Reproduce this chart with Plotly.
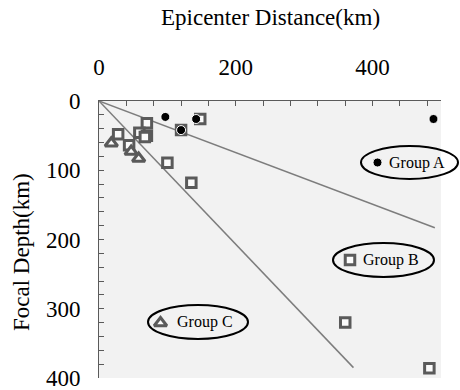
import plotly.graph_objects as go

# ---- data (km) ----
group_a_dist = [97, 142, 120, 489]
group_a_depth = [23, 26, 42, 26]

group_b_dist = [70, 28, 59, 70, 67, 44, 100, 135, 120, 148, 360, 483]
group_b_depth = [32, 48, 46, 50, 52, 64, 89, 118, 42, 26, 320, 386]

group_c_dist = [18, 47, 58]
group_c_depth = [61, 73, 83]

# boundary lines between the groups
boundary_ab_dist = [0, 491]
boundary_ab_depth = [0, 183]
boundary_bc_dist = [0, 372]
boundary_bc_depth = [0, 385]

x_ticks = [0, 200, 400]
y_ticks = [0, 100, 200, 300, 400]

# ---- layout geometry (pixels) ----
W, H = 460, 390
ML, MR, MT, MB = 99, 19, 101, 12
PW, PH = W - ML - MR, H - MT - MB
X_MAX, Y_MAX = 500, 400


def px_to_paper(px, py):
    return (px - ML) / PW, 1 - (py - MT) / PH


def px_to_data(px, py):
    return (px - ML) / PW * X_MAX, (py - MT) / PH * Y_MAX


FONT = "Liberation Serif, Times New Roman, serif"
GREY = "#5a5a5a"

sq_style = dict(symbol="square", size=9.5, color="#fbfbfb",
                line=dict(color=GREY, width=3))
tri_style = dict(symbol="triangle-up", size=11, color="#fbfbfb",
                 line=dict(color=GREY, width=3))
dot_style = dict(symbol="circle", size=9, color="black",
                 line=dict(color="white", width=1))

fig = go.Figure()

for xs, ys in [(boundary_ab_dist, boundary_ab_depth),
               (boundary_bc_dist, boundary_bc_depth)]:
    fig.add_trace(go.Scatter(x=xs, y=ys, mode="lines",
                             line=dict(color="#7d7d7d", width=1.5),
                             showlegend=False, hoverinfo="skip"))

fig.add_trace(go.Scatter(x=group_b_dist, y=group_b_depth, mode="markers",
                         marker=sq_style, name="Group B", showlegend=False,
                         cliponaxis=False))
fig.add_trace(go.Scatter(x=group_c_dist, y=group_c_depth, mode="markers",
                         marker=tri_style, name="Group C", showlegend=False,
                         cliponaxis=False))
fig.add_trace(go.Scatter(x=group_a_dist, y=group_a_depth, mode="markers",
                         marker=dot_style, name="Group A", showlegend=False,
                         cliponaxis=False))

# ---- ellipse keys ----
keys = [
    # label, marker style, ellipse box (x0, x1, y0, y1), marker pos, text left
    ("Group A", dot_style, (361, 458, 146, 179), (377.5, 162.5), 387),
    ("Group B", sq_style, (333, 434, 243, 277), (350, 260), 361),
    ("Group C", tri_style, (148, 248, 305, 339), (160.5, 323), 175),
]
for label, style, (ex0, ex1, ey0, ey1), (mx, my), tx in keys:
    px0, py1 = px_to_paper(ex0, ey0)
    px1, py0 = px_to_paper(ex1, ey1)
    fig.add_shape(type="circle", xref="paper", yref="paper",
                  x0=px0, x1=px1, y0=py0, y1=py1,
                  line=dict(color="black", width=2), layer="above")
    kx, ky = px_to_data(mx, my)
    fig.add_trace(go.Scatter(x=[kx], y=[ky], mode="markers", marker=style,
                             showlegend=False, hoverinfo="skip",
                             cliponaxis=False))
    ax, ay = px_to_paper(tx, (ey0 + ey1) / 2)
    fig.add_annotation(x=ax, y=ay, xref="paper", yref="paper", text=label,
                       showarrow=False, xanchor="left", yanchor="middle",
                       font=dict(family=FONT, size=16, color="black"))

# ---- axis titles ----
tx, ty = px_to_paper(270, 18)
fig.add_annotation(x=tx, y=ty, xref="paper", yref="paper",
                   text="Epicenter Distance(km)", showarrow=False,
                   xanchor="center", yanchor="middle",
                   font=dict(family=FONT, size=23, color="black"))
tx, ty = px_to_paper(21, 252)
fig.add_annotation(x=tx, y=ty, xref="paper", yref="paper",
                   text="Focal Depth(km)", showarrow=False, textangle=-90,
                   xanchor="center", yanchor="middle",
                   font=dict(family=FONT, size=23, color="black"))

tick_font = dict(family=FONT, size=23, color="black")
axis_common = dict(showline=True, linecolor=GREY, linewidth=1,
                   ticks="inside", ticklen=5, tickcolor=GREY, tickwidth=1,
                   showgrid=False, zeroline=False, mirror=False,
                   ticklabeloverflow="allow", automargin=False)

fig.update_xaxes(range=[0, X_MAX], side="top", tickmode="array",
                 tickvals=x_ticks, ticklabelstandoff=16, tickfont=tick_font,
                 minor=dict(dtick=40, tick0=0, ticks="inside", ticklen=5,
                            tickcolor=GREY, showgrid=False),
                 **axis_common)
fig.update_yaxes(range=[Y_MAX, 0], tickmode="array", tickvals=y_ticks,
                 ticklabelstandoff=13, tickfont=tick_font,
                 minor=dict(dtick=20, tick0=0, ticks="inside", ticklen=5,
                            tickcolor=GREY, showgrid=False),
                 **axis_common)

fig.update_layout(width=W, height=H,
                  font=dict(family=FONT, color="black"),
                  margin=dict(l=ML, r=MR, t=MT, b=MB, pad=0, autoexpand=False),
                  plot_bgcolor="#f2f2f2", paper_bgcolor="white",
                  showlegend=False)

fig.write_html("out.html")
